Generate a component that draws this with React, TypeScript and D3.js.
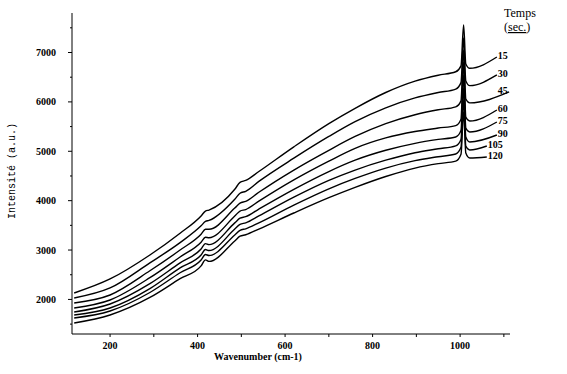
import * as d3 from 'd3';

// wavenumber grid shared by every spectrum (cm-1)
const wavenumbers = [118, 200, 291, 360, 408, 418, 426, 485, 497, 510, 540, 620, 700, 760, 830, 897, 950, 990, 1002, 1008, 1013, 1022];
// last point of each spectrum
const lastWn = [1084, 1084, 1112, 1084, 1084, 1084, 1061, 1061];

const times = ['15', '30', '45', '60', '75', '90', '105', '120'];

const s15 = [2130, 2414, 2900, 3340, 3690, 3790, 3810, 4230, 4370, 4410, 4590, 5090, 5560, 5870, 6190, 6420, 6540, 6610, 6730, 7557, 6768, 6680, 6909];
const s30 = [2029, 2232, 2740, 3150, 3490, 3580, 3600, 4030, 4150, 4190, 4390, 4860, 5300, 5600, 5880, 6080, 6190, 6260, 6390, 7294, 6423, 6330, 6545];
const s45 = [1928, 2090, 2580, 3000, 3320, 3420, 3420, 3850, 3950, 3985, 4170, 4620, 5020, 5300, 5560, 5740, 5840, 5900, 6020, 7051, 6059, 5980, 6201];
const s60 = [1827, 1989, 2440, 2860, 3160, 3260, 3250, 3690, 3790, 3820, 3990, 4420, 4800, 5060, 5270, 5400, 5470, 5520, 5650, 6808, 5694, 5613, 5836];
const s75 = [1746, 1908, 2320, 2740, 3020, 3130, 3110, 3550, 3645, 3675, 3830, 4230, 4590, 4820, 5020, 5160, 5240, 5290, 5420, 6545, 5472, 5391, 5593];
const s90 = [1685, 1827, 2220, 2640, 2900, 3010, 2990, 3425, 3520, 3550, 3690, 4070, 4410, 4620, 4820, 4970, 5050, 5110, 5240, 6282, 5289, 5188, 5330];
const s105 = [1624, 1766, 2140, 2540, 2800, 2910, 2890, 3305, 3400, 3430, 3550, 3910, 4240, 4450, 4660, 4810, 4890, 4945, 5080, 6039, 5107, 5026, 5107];
const s120 = [1523, 1685, 2040, 2420, 2680, 2800, 2770, 3185, 3280, 3310, 3425, 3750, 4060, 4270, 4490, 4660, 4750, 4800, 4940, 5796, 4965, 4864, 4884];

const series = [s15, s30, s45, s60, s75, s90, s105, s120];

const xTicks = [200, 300, 400, 500, 600, 700, 800, 900, 1000, 1100];
const xLabels = [200, 400, 600, 800, 1000];
const yTicks = [1500, 2000, 2500, 3000, 3500, 4000, 4500, 5000, 5500, 6000, 6500, 7000, 7500];
const yLabels = [2000, 3000, 4000, 5000, 6000, 7000];

const W = 567;
const H = 374;
const serif = '"Liberation Serif", "DejaVu Serif", serif';

export default function App() {
    const x = d3.scaleLinear().domain([113, 1114]).range([72, 510]);
    const y = d3.scaleLinear().domain([1300, 7800]).range([334, 13]);

    const line = d3.line<[number, number]>()
        .x(d => x(d[0]))
        .y(d => y(d[1]))
        .curve(d3.curveMonotoneX);

    const pts = (vals: number[], i: number): [number, number][] =>
        vals.map((v, j) => [j < wavenumbers.length ? wavenumbers[j] : lastWn[i], v]);

    return (
        <svg width={W} height={H} style={{ position: 'absolute', left: 0, top: 0, background: '#fff' }}>
            {/* spectra */}
            <g fill="none" stroke="#000" strokeWidth={1.4}>
                {series.map((s, i) => (
                    <path key={times[i]} d={line(pts(s, i)) || ''} />
                ))}
            </g>

            {/* time labels */}
            <g fontFamily={serif} fontWeight="bold" fontSize={10}>
                {series.map((s, i) => (
                    <text key={times[i]} x={x(lastWn[i] < 1070 ? 1063 : 1086)} y={y(s[s.length - 1]) + 2}>
                        {times[i]}
                    </text>
                ))}
            </g>
            <text x={504} y={17} fontFamily={serif} fontSize={12}>Temps</text>
            <text x={504} y={31} fontFamily={serif} fontSize={12}>
                (<tspan textDecoration="underline">sec.</tspan>)
            </text>

            {/* y axis */}
            <line x1={72} x2={72} y1={y(7800)} y2={y(1300)} stroke="#000" />
            {yTicks.map(t => (
                <line key={t} x1={yLabels.includes(t) ? 68 : 70} x2={72} y1={y(t)} y2={y(t)} stroke="#000" />
            ))}
            {yLabels.map(t => (
                <text key={t} x={56} y={y(t) + 3.5} textAnchor="end" fontFamily={serif} fontWeight="bold" fontSize={10}>
                    {t}
                </text>
            ))}
            <text
                transform={`translate(15,171) rotate(-90)`}
                textAnchor="middle"
                fontFamily='"Liberation Mono", "DejaVu Sans Mono", monospace'
                fontSize={10}
            >
                Intensité (a.u.)
            </text>

            {/* x axis */}
            <line x1={72} x2={510} y1={334} y2={334} stroke="#000" />
            {xTicks.map(t => (
                <line key={t} x1={x(t)} x2={x(t)} y1={334} y2={337} stroke="#000" />
            ))}
            {xLabels.map(t => (
                <text key={t} x={x(t)} y={349} textAnchor="middle" fontFamily={serif} fontWeight="bold" fontSize={10}>
                    {t}
                </text>
            ))}
            <text x={258} y={360} textAnchor="middle" fontFamily={serif} fontWeight="bold" fontSize={10}>
                Wavenumber (cm-1)
            </text>
        </svg>
    );
}
